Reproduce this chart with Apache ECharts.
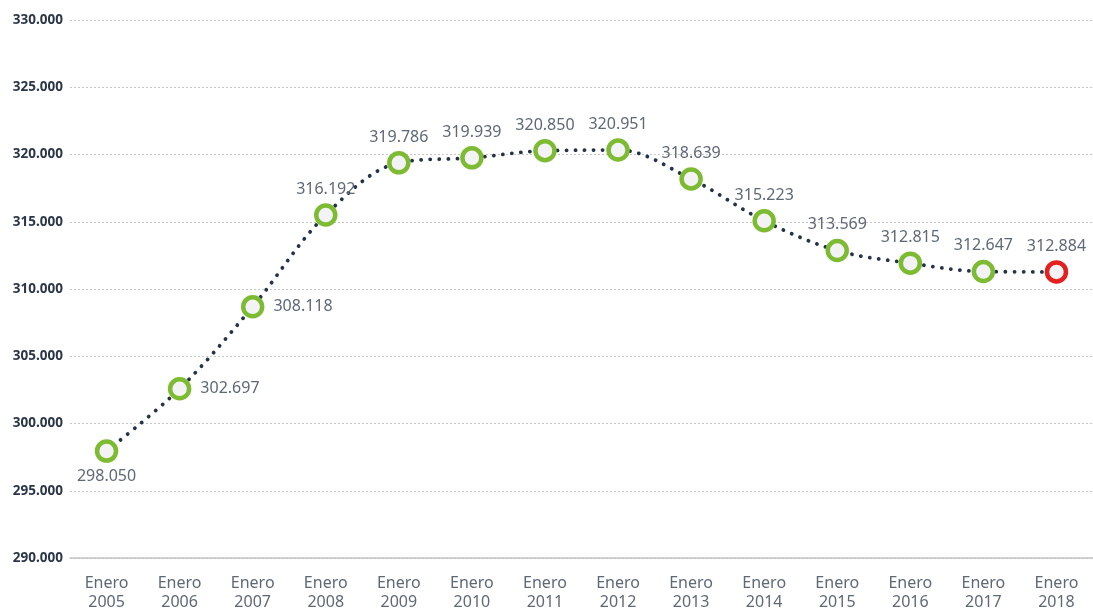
<!DOCTYPE html>
<html>
<head>
<meta charset="utf-8">
<script src="https://cdn.jsdelivr.net/npm/echarts@6/dist/echarts.min.js"></script>
<style>
  html, body { margin: 0; padding: 0; background: #fff; }
  #chart { width: 1093px; height: 612px; }
</style>
</head>
<body>
<div id="chart"></div>
<script>
  // categorias (eje x)
  var years = ['2005', '2006', '2007', '2008', '2009', '2010', '2011',
               '2012', '2013', '2014', '2015', '2016', '2017', '2018'];
  // posicion dibujada de cada punto
  var values = [297950, 302580, 308680, 315500, 319380, 319750, 320280,
                320330, 318180, 315070, 312860, 311920, 311300, 311270];
  // texto de la etiqueta de cada punto
  var labels = ['298.050', '302.697', '308.118', '316.192', '319.786', '319.939', '320.850',
                '320.951', '318.639', '315.223', '313.569', '312.815', '312.647', '312.884'];
  var labelPos = ['bottom', 'right', 'right', 'top', 'top', 'top', 'top',
                  'top', 'top', 'top', 'top', 'top', 'top', 'top'];
  var yMin = 290000, yMax = 330000, yStep = 5000;

  var green = '#7dbb32', red = '#e3201f';

  var seriesData = values.map(function (v, i) {
    var last = i === values.length - 1;
    return {
      value: v,
      itemStyle: { borderColor: last ? red : green },
      label: {
        position: labelPos[i],
        distance: labelPos[i] === 'right' ? 9 : 6,
        formatter: labels[i]
      }
    };
  });

  var myChart = echarts.init(document.getElementById('chart'));
  myChart.setOption({
    animation: false,
    grid: { left: 70, right: -2, top: 20, bottom: 46, containLabel: false },
    xAxis: {
      type: 'category',
      data: years.map(function (y) { return 'Enero\n' + y; }),
      boundaryGap: true,
      axisLine: { show: true, lineStyle: { color: '#c4c4c4', width: 1.5 } },
      axisTick: { show: false },
      axisLabel: {
        margin: 16,
        color: '#5f6875',
        fontFamily: 'Noto Sans',
        fontSize: 16,
        lineHeight: 19,
        interval: 0
      }
    },
    yAxis: {
      type: 'value',
      min: yMin,
      max: yMax,
      interval: yStep,
      axisLine: { show: false },
      axisTick: { show: false },
      splitLine: { lineStyle: { color: '#c6c6c6', type: [2, 2], width: 1 } },
      axisLabel: {
        margin: 7,
        color: '#2b3648',
        fontFamily: 'Noto Sans',
        fontWeight: 'bold',
        fontSize: 13.5,
        formatter: function (v) { return (v / 1000).toFixed(3); }
      }
    },
    series: [{
      type: 'line',
      data: seriesData,
      smooth: 0.35,
      symbol: 'circle',
      symbolSize: 19,
      lineStyle: { color: '#243347', width: 3.8, type: [0.1, 9], cap: 'round' },
      itemStyle: { color: '#f3f3f6', borderColor: green, borderWidth: 4.5 },
      label: {
        show: true,
        color: '#5f6875',
        fontFamily: 'Noto Sans',
        fontSize: 16
      },
      z: 3
    }]
  });
</script>
</body>
</html>
